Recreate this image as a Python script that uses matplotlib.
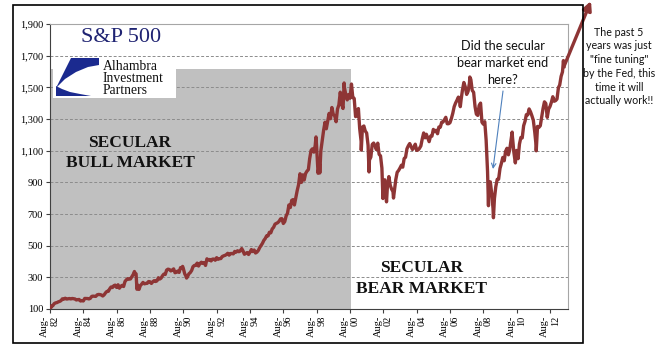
import matplotlib
matplotlib.use("Agg")
import matplotlib.pyplot as plt
from matplotlib.patches import Rectangle, Polygon
import pandas as pd

# ---------------- data ----------------
# S&P 500 month-end closes, Aug 1982 .. May 2013
monthly_values = [
    119.5, 120.4, 133.7, 138.5, 140.6,  # 1982 Aug-Dec
    145.3, 148.1, 153.0, 164.4, 162.4, 168.1, 162.6, 164.4, 166.1, 163.6, 166.4, 164.9,  # 1983
    163.4, 157.1, 159.2, 160.1, 150.6, 153.2, 150.7, 166.7, 166.1, 166.1, 163.6, 167.2,  # 1984
    179.6, 181.2, 180.7, 179.8, 189.6, 191.9, 190.9, 188.6, 182.1, 189.8, 202.2, 211.3,  # 1985
    211.8, 226.9, 238.9, 235.5, 247.4, 250.8, 236.1, 252.9, 231.3, 244.0, 249.2, 242.2,  # 1986
    274.1, 284.2, 291.7, 288.4, 290.1, 304.0, 318.7, 329.8, 321.8, 251.8, 230.3, 247.1,  # 1987
    257.1, 267.8, 258.9, 261.3, 262.2, 273.5, 272.0, 261.5, 271.9, 279.0, 273.7, 277.7,  # 1988
    297.5, 288.9, 294.9, 309.6, 320.5, 318.0, 346.1, 351.5, 349.2, 340.4, 346.0, 353.4,  # 1989
    329.1, 331.9, 339.9, 330.8, 361.2, 358.0, 356.2, 322.6, 306.1, 304.0, 322.2, 330.2,  # 1990
    343.9, 367.1, 375.2, 375.3, 389.8, 371.2, 387.8, 395.4, 387.9, 392.5, 375.2, 417.1,  # 1991
    408.8, 412.7, 403.7, 415.0, 415.4, 408.1, 424.2, 414.0, 417.8, 418.7, 431.4, 435.7,  # 1992
    438.8, 443.4, 451.7, 440.2, 450.2, 450.5, 448.1, 463.6, 458.9, 467.8, 461.8, 466.5,  # 1993
    481.6, 467.1, 445.8, 450.9, 456.5, 444.3, 458.3, 475.5, 462.7, 472.4, 453.7, 459.3,  # 1994
    470.4, 487.4, 500.7, 514.7, 533.4, 544.8, 562.1, 561.9, 584.4, 581.5, 605.4, 615.9,  # 1995
    636.0, 640.4, 645.5, 654.2, 669.1, 670.6, 640.0, 652.0, 687.3, 705.3, 757.0, 740.7,  # 1996
    786.2, 790.8, 757.1, 801.3, 848.3, 885.1, 954.3, 899.5, 947.3, 914.6, 955.4, 970.4,  # 1997
    980.3, 1049.3, 1101.8, 1111.8, 1090.8, 1133.8, 1120.7, 957.3, 1017.0, 1098.7, 1163.6, 1229.2,  # 1998
    1279.6, 1238.3, 1286.4, 1335.2, 1301.8, 1372.7, 1328.7, 1320.4, 1282.7, 1362.9, 1388.9, 1469.3,  # 1999
    1394.5, 1366.4, 1498.6, 1452.4, 1420.6, 1454.6, 1430.8, 1517.7, 1436.5, 1429.4, 1315.2, 1320.3,  # 2000
    1366.0, 1239.9, 1160.3, 1249.5, 1255.8, 1224.4, 1211.2, 1133.6, 1040.9, 1059.8, 1139.5, 1148.1,  # 2001
    1130.2, 1106.7, 1147.4, 1076.9, 1067.1, 989.8, 911.6, 916.1, 815.3, 885.8, 936.3, 879.8,  # 2002
    855.7, 841.2, 848.2, 916.9, 963.6, 974.5, 990.3, 1008.0, 996.0, 1050.7, 1058.2, 1111.9,  # 2003
    1131.1, 1144.9, 1126.2, 1107.3, 1120.7, 1140.8, 1101.7, 1104.2, 1114.6, 1130.2, 1173.8, 1211.9,  # 2004
    1181.3, 1203.6, 1180.6, 1156.9, 1191.5, 1191.3, 1234.2, 1220.3, 1228.8, 1207.0, 1249.5, 1248.3,  # 2005
    1280.1, 1280.7, 1294.9, 1310.6, 1270.1, 1270.2, 1276.7, 1303.8, 1335.9, 1377.9, 1400.6, 1418.3,  # 2006
    1438.2, 1406.8, 1420.9, 1482.4, 1530.6, 1503.4, 1455.3, 1474.0, 1526.8, 1549.4, 1481.1, 1468.4,  # 2007
    1378.6, 1330.6, 1322.7, 1385.6, 1400.4, 1280.0, 1267.4, 1282.8, 1166.4, 968.8, 896.2, 903.3,  # 2008
    825.9, 735.1, 797.9, 872.8, 919.1, 919.3, 987.5, 1020.6, 1057.1, 1036.2, 1095.6, 1115.1,  # 2009
    1073.9, 1104.5, 1169.4, 1186.7, 1089.4, 1030.7, 1101.6, 1049.3, 1141.2, 1183.3, 1180.6, 1257.6,  # 2010
    1286.1, 1327.2, 1325.8, 1363.6, 1345.2, 1320.6, 1292.3, 1218.9, 1131.4, 1253.3, 1247.0, 1257.6,  # 2011
    1312.4, 1365.7, 1408.5, 1397.9, 1310.3, 1362.2, 1379.3, 1406.6, 1440.7, 1412.2, 1416.2, 1426.2,  # 2012
    1498.1, 1514.7, 1569.2, 1597.6, 1630.7,  # 2013 Jan-May
]
monthly_dates = pd.date_range("1982-08-31", periods=len(monthly_values), freq="ME")

# intra-month highs / lows visible in the chart
extreme_dates = ["1982-08-12", "1987-08-25", "1987-10-19", "1987-12-04", "1990-07-16",
                 "1990-10-11", "1998-07-17", "1998-10-08", "2000-03-24", "2000-09-01",
                 "2001-04-04", "2001-09-21", "2002-07-23", "2002-10-09", "2003-03-11",
                 "2007-03-14", "2007-10-09", "2008-11-20", "2009-03-09", "2010-04-23",
                 "2010-07-02", "2011-04-29", "2011-10-03", "2013-05-21"]
extreme_values = [102.4, 336.8, 224.8, 223.9, 369.0,
                  295.5, 1186.8, 959.4, 1527.5, 1520.8,
                  1103.3, 965.8, 797.7, 776.8, 800.7,
                  1377.9, 1565.2, 752.4, 676.5, 1217.3,
                  1022.6, 1363.6, 1099.2, 1669.2]

y_ticks = [100, 300, 500, 700, 900, 1100, 1300, 1500, 1700, 1900]
tick_years = list(range(1982, 2013, 2))

bull_start, bull_end, bull_top = "1982-08-01", "2000-08-20", 1615

series = pd.Series(
    list(monthly_values) + extreme_values,
    index=list(monthly_dates) + list(pd.to_datetime(extreme_dates)),
).sort_index()

# ---------------- figure ----------------
W, H = 658, 361
fig = plt.figure(figsize=(W / 100, H / 100), dpi=100)
fig.patch.set_facecolor("white")

def fx(px):
    return px / W

def fy(py):
    return 1 - py / H

ax = fig.add_axes([fx(50), fy(309), fx(568) - fx(50), fy(24) - fy(309)])

RED = "#8E3535"

ax.fill_between([pd.Timestamp(bull_start), pd.Timestamp(bull_end)], 0, bull_top,
                color="#C0C0C0", lw=0, zorder=0)

for yv in y_ticks[1:-1]:
    ax.axhline(yv, color="#8C8C8C", lw=0.7, ls=(0, (3, 2)), zorder=1)

ax.plot(series.index, series.values, color=RED, lw=2.4, zorder=3,
        solid_joinstyle="round")

ax.set_ylim(100, 1900)
ax.set_xlim(pd.Timestamp("1982-08-01"), pd.Timestamp("2013-08-29"))
ax.set_yticks(y_ticks)
ax.set_yticklabels([f"{v:,}" for v in y_ticks])

tick_dates = [pd.Timestamp(f"{y}-08-01") for y in tick_years]
ax.set_xticks(tick_dates)
ax.set_xticklabels([f"Aug-\n{str(y)[-2:]}" for y in tick_years])

for lab in ax.get_yticklabels():
    lab.set_fontfamily("Liberation Serif")
    lab.set_fontsize(7.5)
for lab in ax.get_xticklabels():
    lab.set_fontfamily("Liberation Serif")
    lab.set_fontsize(7.5)
    lab.set_rotation(90)
    lab.set_multialignment("right")
    lab.set_va("top")
    lab.set_ha("center")

ax.tick_params(axis="both", direction="out", length=3, width=0.8, color="#404040", pad=2,
               labelcolor="black")
ax.spines["left"].set_color("#404040")
ax.spines["bottom"].set_color("#404040")
ax.spines["top"].set_color("#A6A6A6")
ax.spines["right"].set_color("#A6A6A6")
for s in ax.spines.values():
    s.set_linewidth(0.8)

serif_bold = dict(family="Liberation Serif", weight="bold", fontsize=12.5, color="#111111",
                  ha="center", va="center")
fig.text(fx(130), fy(143), "SECULAR", **serif_bold)
fig.text(fx(130), fy(163), "BULL MARKET", **serif_bold)
fig.text(fx(422), fy(268), "SECULAR", **serif_bold)
fig.text(fx(421), fy(289), "BEAR MARKET", **serif_bold)

fig.text(fx(503), fy(63), "Did the secular\nbear market end\nhere?", family="Lato",
         fontsize=9.2, ha="center", va="center", linespacing=1.45, color="#111111")
ax.annotate("", xy=(fx(493), fy(169)), xycoords="figure fraction",
            xytext=(fx(503), fy(91)), textcoords="figure fraction",
            arrowprops=dict(arrowstyle="->", color="#4F81BD", lw=0.8,
                            shrinkA=0, shrinkB=0, mutation_scale=8),
            annotation_clip=False)

last_x, last_y = series.index[-1], series.values[-1]
arr = ax.annotate("", xy=(fx(591), fy(1)), xycoords="figure fraction",
                  xytext=(last_x, last_y), textcoords="data",
                  arrowprops=dict(arrowstyle="-|>", color=RED, lw=2.4,
                                  shrinkA=0, shrinkB=0, mutation_scale=13),
                  annotation_clip=False)
arr.arrow_patch.set_clip_on(False)

fig.text(fx(619), fy(66.5), "The past 5\nyears was just\n\"fine tuning\"\nby the Fed, this\ntime it will\nactually work!!",
         family="Lato", fontsize=7.7, ha="center", va="center", linespacing=1.3,
         color="#111111")

fig.text(fx(121), fy(37), "S&P 500", family="Liberation Serif", fontsize=16,
         color="#1F2372", ha="center", va="center")

# logo box
logo = fig.add_axes([fx(53), fy(98), fx(176) - fx(53), fy(57) - fy(98)])
logo.set_xlim(53, 176)
logo.set_ylim(98, 57)
logo.axis("off")
logo.add_patch(Rectangle((53, 57), 123, 41, facecolor="white", edgecolor="none"))
NAVY = "#1B2A8F"
logo.add_patch(Polygon([(71, 58), (99, 58), (99, 65), (88, 67), (76, 72), (65, 79), (56, 88)],
                       closed=True, facecolor=NAVY, edgecolor="none"))
logo.add_patch(Polygon([(56, 96), (91, 96), (80, 94), (70, 92), (62, 89), (56, 86)],
                       closed=True, facecolor=NAVY, edgecolor="none"))
for txt, yy in [("Alhambra", 70.5), ("Investment", 82), ("Partners", 93.5)]:
    logo.text(102.5, yy, txt, family="Liberation Serif", fontsize=9.8, va="baseline",
              ha="left", color="#111111")

fig.patches.append(Rectangle((fx(13), fy(343)), fx(583) - fx(13), fy(5) - fy(343),
                             transform=fig.transFigure, fill=False, edgecolor="black",
                             lw=1.2, zorder=10))

fig.savefig("out.png", dpi=100)
